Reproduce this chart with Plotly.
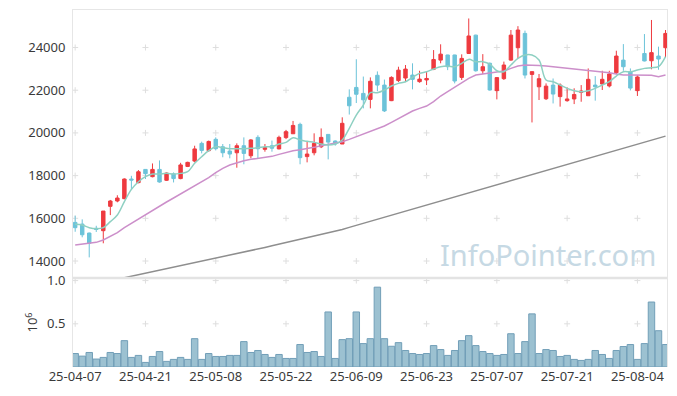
import plotly.graph_objects as go

# ---------------- data ----------------
dates = [
    "25-04-07", "25-04-08", "25-04-09", "25-04-10", "25-04-11",
    "25-04-14", "25-04-15", "25-04-16", "25-04-17", "25-04-18",
    "25-04-21", "25-04-22", "25-04-23", "25-04-24", "25-04-25",
    "25-04-28", "25-04-29", "25-04-30", "25-05-02", "25-05-07",
    "25-05-08", "25-05-09", "25-05-12", "25-05-13", "25-05-14",
    "25-05-15", "25-05-16", "25-05-19", "25-05-20", "25-05-21",
    "25-05-22", "25-05-23", "25-05-26", "25-05-27", "25-05-28",
    "25-05-29", "25-05-30", "25-06-02", "25-06-04", "25-06-05",
    "25-06-09", "25-06-10", "25-06-11", "25-06-12", "25-06-13",
    "25-06-16", "25-06-17", "25-06-18", "25-06-19", "25-06-20",
    "25-06-23", "25-06-24", "25-06-25", "25-06-26", "25-06-27",
    "25-06-30", "25-07-01", "25-07-02", "25-07-03", "25-07-04",
    "25-07-07", "25-07-08", "25-07-09", "25-07-10", "25-07-11",
    "25-07-14", "25-07-15", "25-07-16", "25-07-17", "25-07-18",
    "25-07-21", "25-07-22", "25-07-23", "25-07-24", "25-07-25",
    "25-07-28", "25-07-29", "25-07-30", "25-07-31", "25-08-01",
    "25-08-04", "25-08-05", "25-08-06", "25-08-07", "25-08-08",
]

opens = [15810, 15730, 15310, 15530, 15420, 16560, 16810, 16920, 17840, 17670,
         18290, 17950, 18290, 17780, 18080, 17860, 18430, 18680, 19510, 19170,
         19700, 19350, 19150, 19070, 19400, 18930, 19790, 19230, 19400, 19250,
         19780, 19960, 20400, 18890, 19070, 19350, 19930, 19620, 19480, 21670,
         22130, 21850, 21570, 22700, 22240, 21510, 22450, 22570, 22710, 22400,
         22480, 22980, 23410, 23650, 23650, 22600, 23720, 24580, 22910, 23260,
         21980, 22540, 23410, 23990, 24660, 22740, 22160, 21600, 22240, 21700,
         21510, 21590, 21900, 21740, 22240, 22290, 22200, 22820, 23410, 22870,
         21980, 23720, 23380, 23600, 23990]
highs = [16120, 15950, 15330, 15650, 16340, 16860, 17080, 17870, 17990, 18260,
         18290, 18570, 18710, 18150, 18150, 18600, 18650, 19400, 19590, 19640,
         19790, 19480, 19480, 19510, 19790, 19710, 19890, 19480, 19640, 19870,
         20140, 20560, 20480, 19590, 19980, 20210, 19930, 19650, 20730, 22040,
         23450, 22640, 22600, 22880, 22500, 22650, 23100, 23180, 23260, 22910,
         22870, 23880, 24150, 23660, 23660, 23680, 25360, 24600, 23690, 23300,
         22600, 23340, 24820, 25000, 24790, 22870, 22760, 22320, 22550, 22320,
         22130, 22090, 22240, 23020, 22660, 22910, 22910, 23850, 24160, 23020,
         22710, 24630, 25290, 24040, 24820]
lows = [15370, 15110, 14170, 15360, 14830, 16150, 16750, 16890, 17330, 17640,
        17840, 17920, 17670, 17750, 17680, 17830, 18400, 18620, 19040, 19120,
        19180, 18860, 18810, 18370, 18530, 18810, 18820, 19120, 19120, 19230,
        19710, 19950, 18530, 18620, 18950, 19290, 18760, 19400, 19480, 20860,
        21400, 21150, 21150, 21950, 20980, 21490, 22380, 22380, 22040, 22350,
        22240, 22940, 23260, 22940, 22320, 22480, 23700, 22870, 22760, 21980,
        21570, 22480, 23380, 23490, 22550, 20490, 21540, 21540, 21380, 21230,
        21460, 21350, 21460, 21730, 21510, 22010, 22130, 22760, 22910, 21990,
        21730, 23350, 22980, 22960, 23540]
closes = [15560, 15230, 14830, 15480, 16340, 16810, 16950, 17840, 17790, 18180,
          18090, 18290, 17700, 18120, 17860, 18500, 18620, 19250, 19180, 19600,
          19260, 19070, 19010, 19400, 19040, 19670, 19260, 19310, 19280, 19790,
          20060, 20350, 18840, 19010, 19510, 19790, 19570, 19480, 20450, 21270,
          21810, 21550, 22420, 22240, 21030, 22600, 22940, 22990, 22510, 22520,
          22550, 23440, 23690, 23100, 22430, 23490, 24540, 22910, 23100, 22010,
          22590, 23180, 24580, 24820, 22710, 22870, 22540, 22190, 21820, 22240,
          21590, 21800, 21960, 22510, 22160, 22510, 22760, 23600, 23100, 22100,
          22620, 23370, 23760, 23460, 24660]

ma5 = [15717, 15686, 15561, 15514, 15561, 15842, 16154, 16779, 17356, 17715,
       17950, 18074, 18074, 18105, 18074, 18105, 18184, 18574, 18886, 19167,
       19354, 19307, 19260, 19260, 19260, 19276, 19307, 19354, 19354, 19479,
       19557, 19776, 19666, 19604, 19557, 19479, 19432, 19479, 19666, 20213,
       20837, 21305, 21883, 21883, 22008, 22195, 22320, 22398, 22601, 22788,
       22866, 22991, 23101, 23132, 23101, 23257, 23444, 23335, 23335, 23226,
       22913, 22866, 23179, 23491, 23647, 23647, 23413, 22476, 22398, 22242,
       22086, 21977, 21930, 21977, 22086, 22242, 22398, 22664, 22866, 22866,
       22945, 23023, 23054, 23101, 23569]
ma20 = [14749, 14780, 14812, 14874, 14983, 15139, 15327, 15561, 15764, 15967,
        16185, 16388, 16591, 16763, 16950, 17138, 17309, 17512, 17700, 17903,
        18137, 18340, 18496, 18605, 18699, 18761, 18808, 18855, 18902, 18995,
        19089, 19167, 19214, 19261, 19323, 19401, 19464, 19510, 19588, 19698,
        19822, 19947, 20104, 20213, 20322, 20494, 20681, 20869, 21025, 21149,
        21259, 21462, 21727, 21930, 22133, 22351, 22554, 22710, 22757, 22788,
        22820, 22898, 23023, 23132, 23179, 23179, 23163, 23132, 23101, 23054,
        23023, 22991, 22945, 22913, 22898, 22866, 22820, 22757, 22710, 22710,
        22710, 22710, 22695, 22632, 22710]
ma120 = [12720, 12790, 12860, 12930, 13000, 13070, 13140, 13210, 13280, 13350,
         13420, 13490, 13560, 13630, 13700, 13770, 13840, 13910, 13980, 14050,
         14120, 14190, 14260, 14335, 14410, 14485, 14560, 14635, 14710, 14785,
         14860, 14935, 15010, 15085, 15160, 15235, 15310, 15385, 15480, 15575,
         15670, 15765, 15860, 15955, 16050, 16145, 16240, 16335, 16430, 16525,
         16620, 16715, 16810, 16905, 17000, 17095, 17190, 17285, 17380, 17475,
         17570, 17665, 17760, 17855, 17950, 18045, 18140, 18235, 18330, 18425,
         18520, 18615, 18710, 18805, 18900, 18995, 19090, 19185, 19280, 19375,
         19470, 19565, 19660, 19755, 19850]

# volume in units of 10^6 shares
volume = [0.156, 0.126, 0.168, 0.092, 0.111, 0.168, 0.156, 0.305, 0.111, 0.134,
          0.053, 0.122, 0.179, 0.065, 0.088, 0.111, 0.088, 0.328, 0.088, 0.156,
          0.122, 0.122, 0.134, 0.134, 0.294, 0.168, 0.191, 0.145, 0.111, 0.145,
          0.099, 0.099, 0.260, 0.168, 0.179, 0.122, 0.637, 0.099, 0.317, 0.328,
          0.637, 0.271, 0.328, 0.924, 0.328, 0.240, 0.282, 0.191, 0.156, 0.145,
          0.156, 0.248, 0.202, 0.134, 0.191, 0.305, 0.363, 0.248, 0.179, 0.156,
          0.134, 0.145, 0.385, 0.156, 0.294, 0.615, 0.156, 0.202, 0.191, 0.122,
          0.134, 0.088, 0.076, 0.088, 0.191, 0.145, 0.099, 0.191, 0.237, 0.260,
          0.088, 0.271, 0.752, 0.420, 0.260]

price_ticks = [14000, 16000, 18000, 20000, 22000, 24000]
vol_ticks = [0.5, 1.0]
tick_labels = dates[::10]

# ---------------- styles ----------------
RED = "#ee3a3f"
TEAL = "#6cc3d9"
FONT = "Noto Sans"
SPLIT = 0.2493
GRID = "#dedede"

fig = go.Figure()

fig.add_trace(go.Candlestick(
    x=dates, open=opens, high=highs, low=lows, close=closes,
    xaxis="x", yaxis="y",
    increasing=dict(line=dict(color=RED, width=1), fillcolor=RED),
    decreasing=dict(line=dict(color=TEAL, width=1), fillcolor=TEAL),
    whiskerwidth=0, showlegend=False))

fig.add_trace(go.Bar(x=dates, y=volume, xaxis="x2", yaxis="y2",
                     marker=dict(color="#9cc1d1", line=dict(color="#729fb8", width=1)),
                     showlegend=False))

fig.add_trace(go.Scatter(x=dates, y=ma120, mode="lines", xaxis="x", yaxis="y",
                         line=dict(color="#8e8e8e", width=1.5), showlegend=False))
fig.add_trace(go.Scatter(x=dates, y=ma20, mode="lines", xaxis="x", yaxis="y",
                         line=dict(color="#cc8fca", width=1.5), showlegend=False))
fig.add_trace(go.Scatter(x=dates, y=ma5, mode="lines", xaxis="x", yaxis="y",
                         line=dict(color="#8ed0c2", width=1.5, shape="spline"),
                         showlegend=False))

# grid "+" marks at tick intersections, drawn below the data
shapes = []
def plus(xr, yr, xc, yc):
    shapes.append(dict(type="line", xref=xr, yref=yr, layer="below",
                       xsizemode="pixel", xanchor=xc, x0=-3, x1=3, y0=yc, y1=yc,
                       line=dict(color=GRID, width=1)))
    shapes.append(dict(type="line", xref=xr, yref=yr, layer="below",
                       ysizemode="pixel", yanchor=yc, y0=-3, y1=3, x0=xc, x1=xc,
                       line=dict(color=GRID, width=1)))

for v in price_ticks:
    for k, t in enumerate(tick_labels):
        plus("x", "y", dates.index(t), v)
for v in vol_ticks:
    for k, t in enumerate(tick_labels):
        plus("x2", "y2", dates.index(t), v)

shapes.append(dict(type="line", xref="paper", yref="paper", x0=0, x1=1,
                   y0=SPLIT, y1=SPLIT, line=dict(color="#e3e3e3", width=2.5)))

tickfont = dict(family=FONT, size=13, color="#3a3a3a")

# the page body has an 8px margin, so margins are offset to land the plot
# area at the reference position
fig.update_layout(
    width=677, height=396,
    margin=dict(l=65, r=18, t=2, b=37, autoexpand=False),
    paper_bgcolor="white", plot_bgcolor="white",
    bargap=0.08,
    showlegend=False,
    xaxis=dict(type="category", categoryorder="array", categoryarray=dates,
               domain=[0, 1], anchor="y", automargin=False,
               range=[-0.31, 84.21], showticklabels=False, showgrid=False,
               showline=True, linecolor="#e6e6e6", linewidth=1, mirror=True,
               ticks="", rangeslider=dict(visible=False), zeroline=False),
    yaxis=dict(domain=[SPLIT, 1], anchor="x", range=[13204, 25757], automargin=False,
               tickvals=price_ticks, ticktext=[str(v) for v in price_ticks],
               tickfont=tickfont, showgrid=False, zeroline=False,
               showline=True, linecolor="#e6e6e6", linewidth=1, mirror=True,
               ticks="", ticklabelstandoff=4),
    xaxis2=dict(type="category", categoryorder="array", categoryarray=dates,
                domain=[0, 1], anchor="y2", matches="x", automargin=False,
                tickmode="array", tickvals=tick_labels, ticktext=tick_labels,
                tickfont=tickfont, tickangle=0,
                showgrid=False, showline=False, ticks="", zeroline=False),
    yaxis2=dict(domain=[0, SPLIT], anchor="x2", range=[0, 1.03], automargin=False,
                tickvals=vol_ticks, ticktext=["0.5", "1.0"], tickfont=tickfont,
                showgrid=False, zeroline=False,
                showline=True, linecolor="#e6e6e6", linewidth=1, mirror=True,
                ticks="", ticklabelstandoff=4,
                title=dict(text="10<sup>6</sup>", font=dict(family=FONT, size=13, color="#3a3a3a"),
                           standoff=6)),
    shapes=shapes,
    annotations=[dict(text="InfoPointer.com", xref="paper", yref="paper",
                      x=0.985, y=0.316, xanchor="right", yanchor="middle",
                      showarrow=False,
                      font=dict(family=FONT, size=29, color="#c6d9e4"))],
)

fig.write_html("out.html")
